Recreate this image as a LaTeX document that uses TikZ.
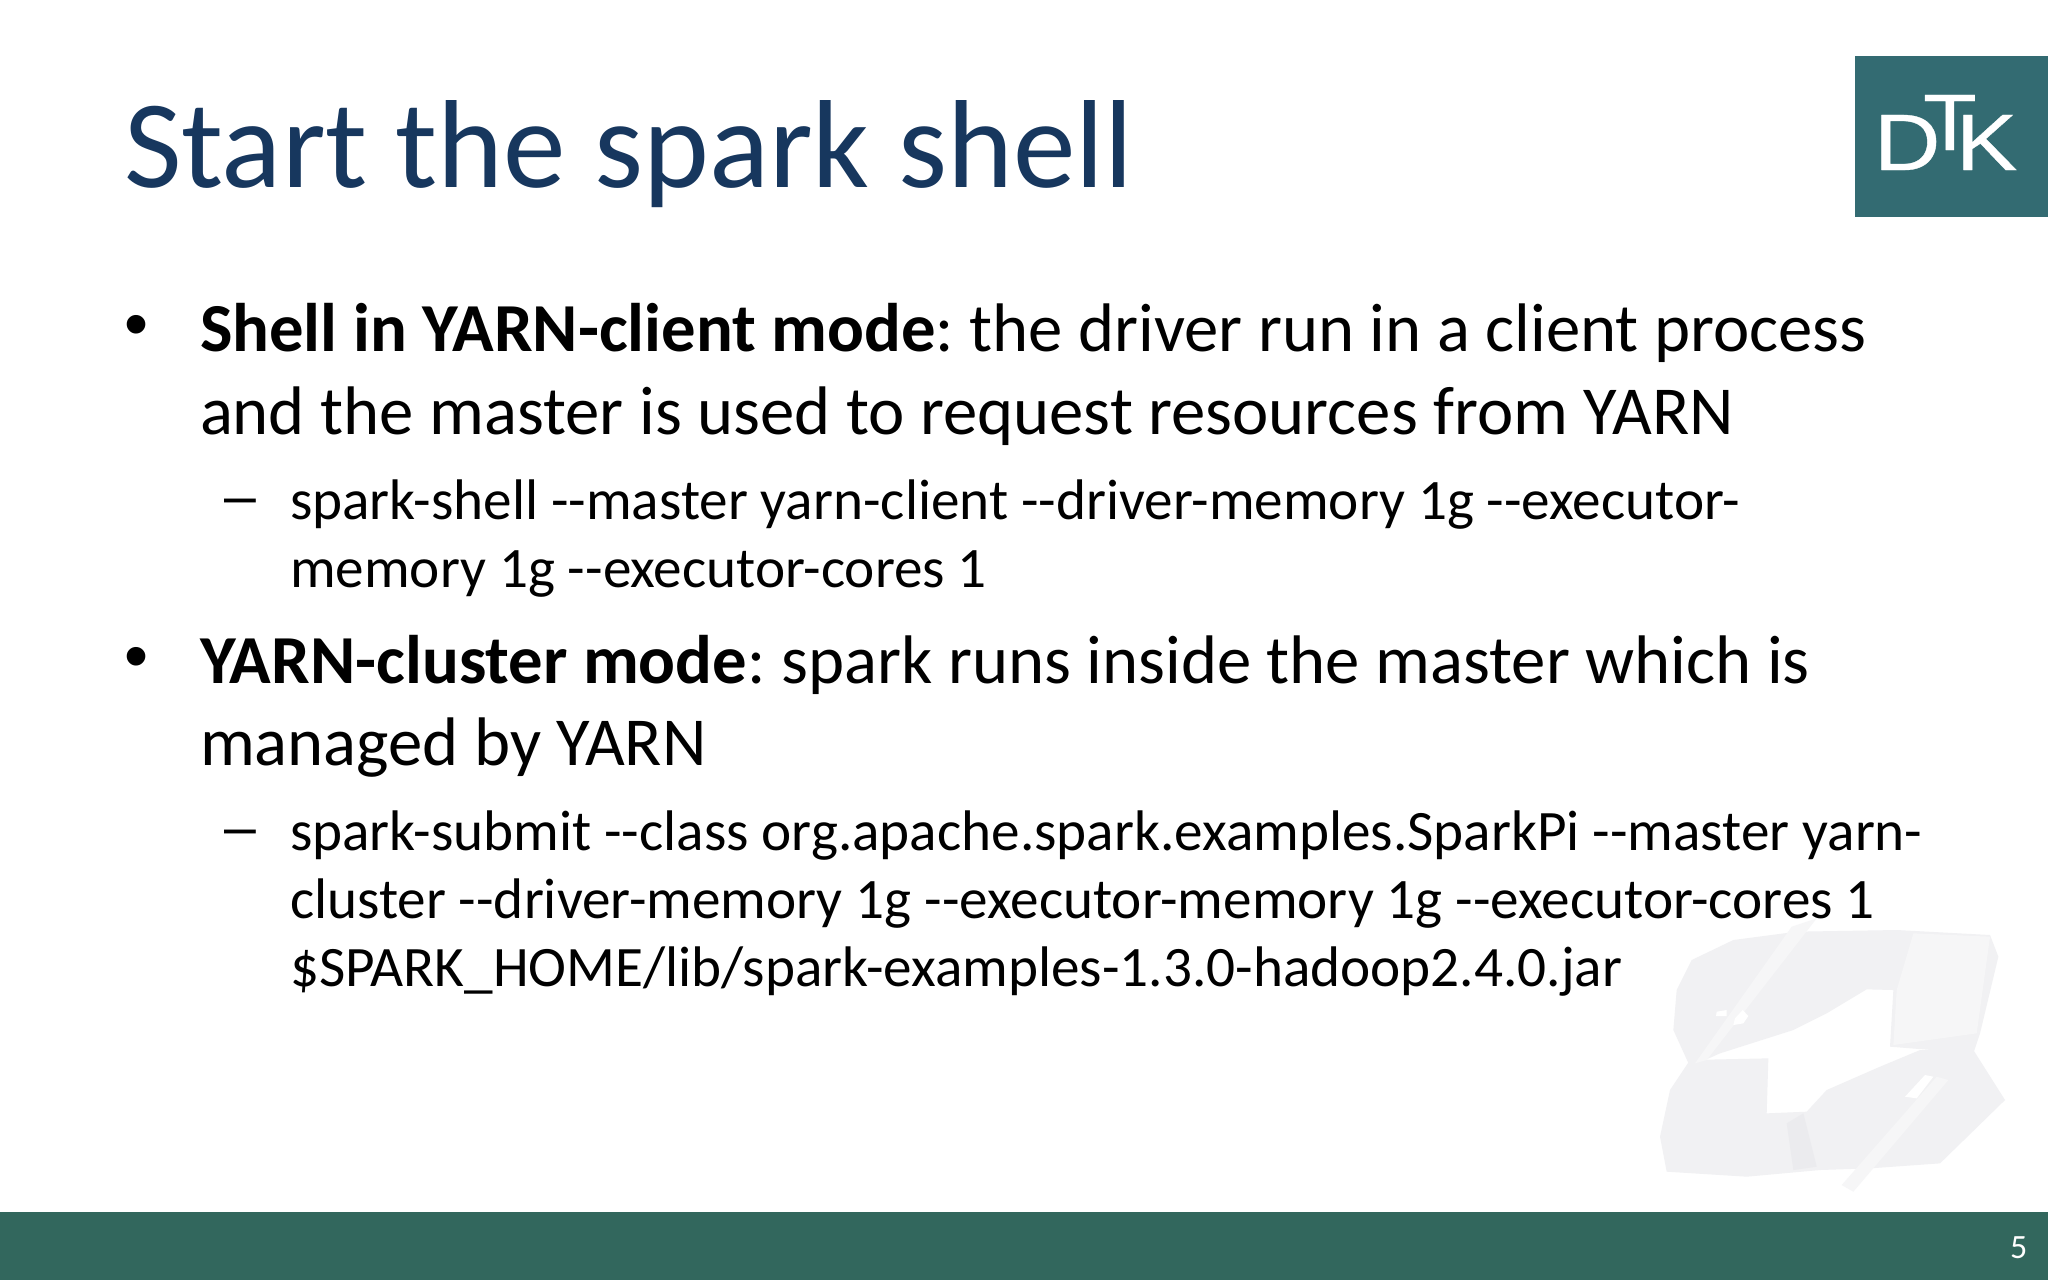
\documentclass[tikz,border=0pt]{standalone}
\usepackage{fontspec}
\newfontfamily\slidefont[Ligatures=NoCommon]{Carlito}
\newfontfamily\logofont[FakeBold=0.4]{Liberation Sans}
\newfontfamily\markfont{Liberation Sans}
\definecolor{titleblue}{HTML}{17375E}
\definecolor{logoteal}{HTML}{336B72}
\definecolor{barteal}{HTML}{32675D}
\definecolor{wmark}{HTML}{F1F1F3}
\definecolor{wmarkb}{HTML}{EBEBEE}
\definecolor{wmarkc}{HTML}{F6F6F7}
\tikzset{
  txt/.style={inner sep=0pt,outer sep=0pt,anchor=base west,font=\slidefont},
  titletxt/.style={txt,text=titleblue,font=\slidefont\fontsize{62.65}{62.65}\selectfont},
  maintxt/.style={txt,text=black,font=\slidefont\fontsize{34.35}{34.35}\selectfont},
  subtxt/.style={txt,text=black,font=\slidefont\fontsize{28.6}{28.6}\selectfont},
  bullettxt/.style={txt,text=black,font=\markfont\fontsize{34.35}{34.35}\selectfont},
  dashtxt/.style={txt,text=black,font=\markfont\fontsize{28.6}{28.6}\selectfont},
  logotxt/.style={inner sep=0pt,outer sep=0pt,anchor=base west,text=white,font=\logofont\fontsize{40}{40}\selectfont},
}
\begin{document}
\begin{tikzpicture}[x=0.5pt,y=-0.5pt]
\useasboundingbox (0,0) rectangle (2048,1280);
\fill[white] (0,0) rectangle (2048,1280);
% watermark (zoom coordinates: px = 1620+x/3, 890+y/3)
\begin{scope}[shift={(1620,890)},x=0.16667pt,y=-0.16667pt]
\fill[wmark] (215,210) -- (340,150) -- (530,125) -- (830,120) -- (1110,135) -- (1135,200) -- (1080,430) -- (1060,490) -- (810,470) -- (820,300) -- (740,298) -- (620,370) -- (520,420) -- (300,490) -- (210,530) -- (160,420) -- (170,300) -- cycle;
\fill[wmark] (210,510) -- (445,505) -- (440,670) -- (560,665) -- (620,600) -- (780,530) -- (900,480) -- (1060,480) -- (1155,630) -- (960,820) -- (750,835) -- (600,840) -- (380,860) -- (140,845) -- (120,740) -- (150,600) -- cycle;
\fill[wmarkb] (500,700) -- (550,670) -- (590,830) -- (520,840) -- cycle;
\fill[wmarkc] (880,130) -- (1110,140) -- (1070,430) -- (820,465) -- (830,300) -- cycle;
\fill[wmarkc] (515,110) -- (590,85) -- (260,510) -- (225,520) -- cycle;
\fill[wmarkc] (950,560) -- (985,570) -- (700,905) -- (665,885) -- cycle;
\fill[white] (290,365) -- (320,360) -- (320,378) -- (288,378) -- cycle;
\fill[white] (340,405) -- (345,385) -- (368,360) -- (385,378) -- (370,400) -- cycle;
\fill[white] (855,620) -- (915,555) -- (940,560) -- (890,625) -- cycle;
\end{scope}
% title
\node[titletxt] (title) at (124,187) {Start the spark shell};
% logo
\fill[logoteal] (1855,56) rectangle (2048,217);
\node[logotxt,xscale=1.15] (logod) at (1874,170) {D};
\node[logotxt,xscale=1.1] (logot) at (1923,150) {T};
\node[logotxt,xscale=1.15] (logok) at (1956,170) {K};
% bullets
\node[bullettxt] (b1) at (124,347) {•};
\node[maintxt] (l1) at (200,351) {\textbf{Shell in YARN-client mode}:\kern-0.08em{} the driver run in a client process};
\node[maintxt] (l2) at (200,434) {and the master is used to request resources from YARN};
\node[dashtxt] (d1) at (224,515) {–};
\node[subtxt] (s1) at (290,519) {spark-shell {-}{-}master yarn-client {-}{-}driver-memory 1g {-}{-}executor-};
\node[subtxt] (s2) at (290,587) {memory 1g {-}{-}executor-cores 1};
\node[bullettxt] (b2) at (124,679) {•};
\node[maintxt] (l3) at (200,683) {\textbf{YARN-cluster mode}:\kern-0.07em{} spark runs inside the master which is};
\node[maintxt] (l4) at (200,765) {managed by YARN};
\node[dashtxt] (d2) at (224,846) {–};
\node[subtxt] (s3) at (290,850) {spark-submit {-}{-}class org.apache.spark.examples.SparkPi {-}{-}master yarn-};
\node[subtxt] (s4) at (290,918) {cluster {-}{-}driver-memory 1g {-}{-}executor-memory 1g {-}{-}executor-cores 1};
\node[subtxt] (s5) at (290,986) {\$SPARK\_HOME/lib/spark-examples-1.3.0-hadoop2.4.0.jar};
% footer
\fill[barteal] (0,1212) rectangle (2048,1280);
\node[txt,text=white,font=\slidefont\fontsize{17}{17}\selectfont] (page) at (2010,1258) {5};
\end{tikzpicture}
\end{document}
